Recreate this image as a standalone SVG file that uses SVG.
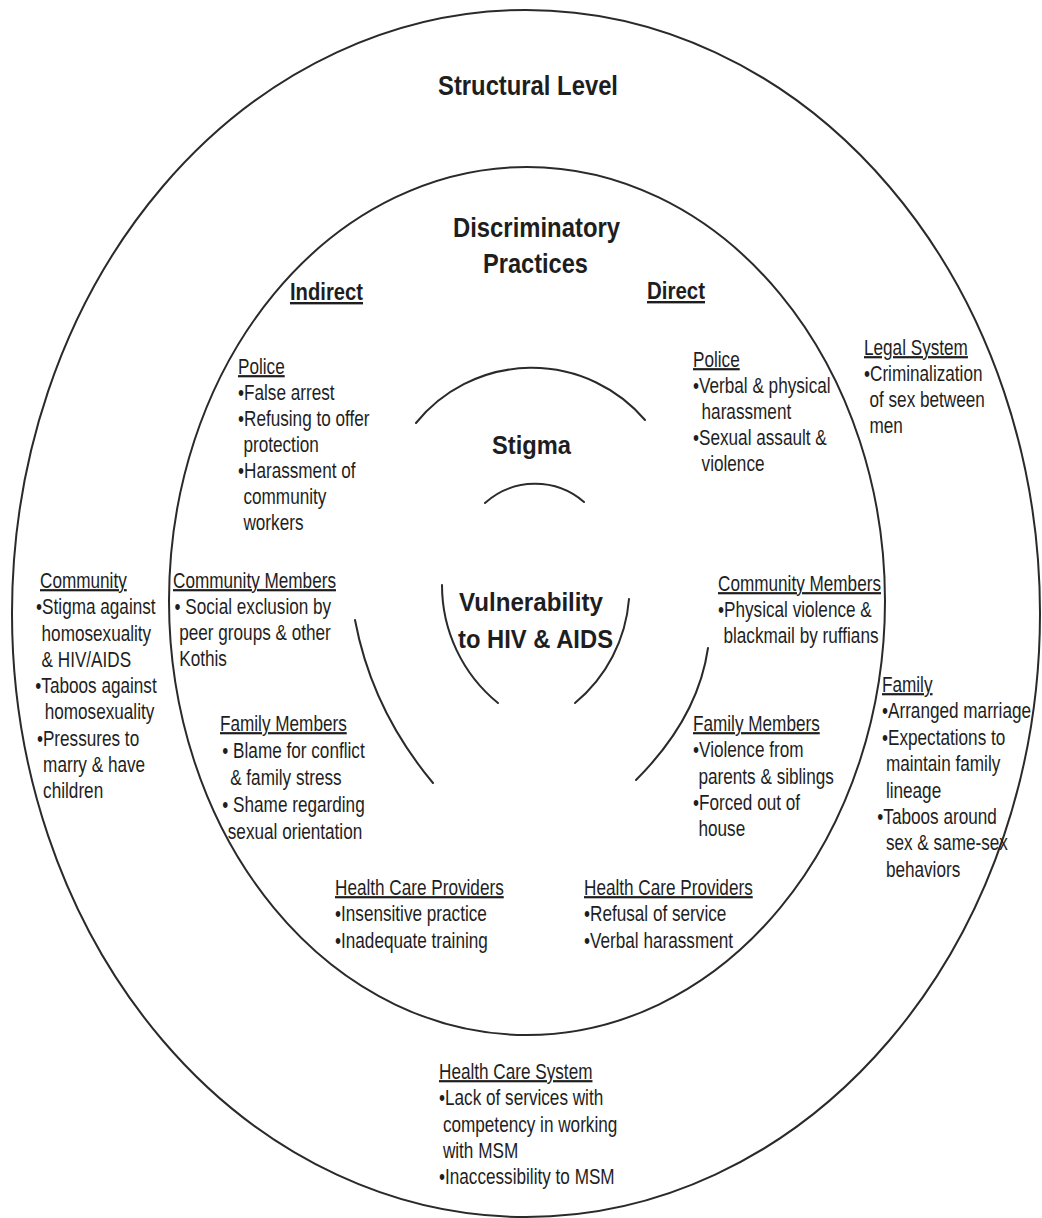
<svg xmlns="http://www.w3.org/2000/svg" width="1042" height="1218" viewBox="0 0 1042 1218">
<style>
.ring{fill:none;stroke:#2a2a2a;stroke-width:2}
.arc{fill:none;stroke:#2a2a2a;stroke-width:2;stroke-linecap:round}
.t{font-family:"Liberation Sans",Arial,sans-serif;fill:#1e1e1e}
.b{font-size:22px}
.h{text-decoration:underline}
.title{font-weight:bold;font-size:28px}
.sub{font-weight:bold;font-size:24px;text-decoration:underline}
.core{font-weight:bold;font-size:26px}
</style>
<rect x="0" y="0" width="1042" height="1218" fill="#ffffff"/>
<g id="rings">
<ellipse class="ring" cx="526" cy="613.5" rx="514" ry="603.5"/>
<ellipse class="ring" cx="527" cy="601" rx="358" ry="434"/>
<path class="arc" d="M416,423 A149,149 0 0 1 645,420"/>
<path class="arc" d="M485,503 A75,75 0 0 1 584,502"/>
<path class="arc" d="M442,585 A152,152 0 0 0 498,703"/>
<path class="arc" d="M629,599 A150,150 0 0 1 575,703"/>
<path class="arc" d="M355,620 Q372,710 433,783"/>
<path class="arc" d="M708,648 Q698,718 636,780"/>
</g>
<g id="titles">
<text id="structural" class="t title" x="438" y="95" textLength="180" lengthAdjust="spacingAndGlyphs">Structural Level</text>
<text id="discriminatory" class="t title" x="453" y="237" textLength="167" lengthAdjust="spacingAndGlyphs">Discriminatory</text>
<text id="practices" class="t title" x="483" y="273" textLength="105" lengthAdjust="spacingAndGlyphs">Practices</text>
<text id="indirect" class="t sub" x="290" y="300" textLength="73" lengthAdjust="spacingAndGlyphs">Indirect</text>
<text id="direct" class="t sub" x="647" y="299" textLength="58" lengthAdjust="spacingAndGlyphs">Direct</text>
</g>
<g id="stigma">
<text class="t core" x="492" y="454" textLength="79" lengthAdjust="spacingAndGlyphs">Stigma</text>
</g>
<g id="vulnerability">
<text class="t core" x="459" y="611" textLength="144" lengthAdjust="spacingAndGlyphs">Vulnerability</text>
<text class="t core" x="458" y="648" textLength="155" lengthAdjust="spacingAndGlyphs">to HIV &amp; AIDS</text>
</g>
<g id="police-indirect">
<text class="t b" transform="translate(238,374) scale(0.78,1)"><tspan class="h" x="0" y="0">Police</tspan><tspan x="0" y="26">•False arrest</tspan><tspan x="0" y="52">•Refusing to offer</tspan><tspan x="7" y="78">protection</tspan><tspan x="0" y="104">•Harassment of</tspan><tspan x="7" y="130">community</tspan><tspan x="7" y="156">workers</tspan></text>
</g>
<g id="police-direct">
<text class="t b" transform="translate(693,367) scale(0.78,1)"><tspan class="h" x="0" y="0">Police</tspan><tspan x="0" y="26">•Verbal &amp; physical</tspan><tspan x="11" y="52">harassment</tspan><tspan x="0" y="78">•Sexual assault &amp;</tspan><tspan x="11" y="104">violence</tspan></text>
</g>
<g id="legal-system">
<text class="t b" transform="translate(864,355) scale(0.78,1)"><tspan class="h" x="0" y="0">Legal System</tspan><tspan x="0" y="26">•Criminalization</tspan><tspan x="7" y="52">of sex between</tspan><tspan x="7" y="78">men</tspan></text>
</g>
<g id="community">
<text class="t b" transform="translate(40,588) scale(0.78,1)"><tspan class="h" x="0" y="0">Community</tspan><tspan x="-5" y="26.3">•Stigma against</tspan><tspan x="2" y="52.6">homosexuality</tspan><tspan x="2" y="78.9">&amp; HIV/AIDS</tspan><tspan x="-6" y="105.2">•Taboos against</tspan><tspan x="6" y="131.5">homosexuality</tspan><tspan x="-4" y="157.8">•Pressures to</tspan><tspan x="4" y="184.1">marry &amp; have</tspan><tspan x="4" y="210.4">children</tspan></text>
</g>
<g id="community-members-indirect">
<text class="t b" transform="translate(173,588) scale(0.78,1)"><tspan class="h" x="0" y="0">Community Members</tspan><tspan x="2" y="26">• Social exclusion by</tspan><tspan x="8" y="52">peer groups &amp; other</tspan><tspan x="8" y="78">Kothis</tspan></text>
</g>
<g id="family-members-indirect">
<text class="t b" transform="translate(220,731) scale(0.78,1)"><tspan class="h" x="0" y="0">Family Members</tspan><tspan x="3" y="27">• Blame for conflict</tspan><tspan x="13" y="54">&amp; family stress</tspan><tspan x="3" y="81">• Shame regarding</tspan><tspan x="10" y="108">sexual orientation</tspan></text>
</g>
<g id="community-members-direct">
<text class="t b" transform="translate(718,591) scale(0.78,1)"><tspan class="h" x="0" y="0">Community Members</tspan><tspan x="0" y="26">•Physical violence &amp;</tspan><tspan x="7" y="52">blackmail by ruffians</tspan></text>
</g>
<g id="family-members-direct">
<text class="t b" transform="translate(693,731) scale(0.78,1)"><tspan class="h" x="0" y="0">Family Members</tspan><tspan x="0" y="26.3">•Violence from</tspan><tspan x="7" y="52.6">parents &amp; siblings</tspan><tspan x="0" y="78.9">•Forced out of</tspan><tspan x="7" y="105.2">house</tspan></text>
</g>
<g id="family">
<text class="t b" transform="translate(882,692) scale(0.78,1)"><tspan class="h" x="0" y="0">Family</tspan><tspan x="0" y="26.4">•Arranged marriage</tspan><tspan x="0" y="52.8">•Expectations to</tspan><tspan x="5" y="79.2">maintain family</tspan><tspan x="5" y="105.6">lineage</tspan><tspan x="-6" y="132">•Taboos around</tspan><tspan x="5" y="158.4">sex &amp; same-sex</tspan><tspan x="5" y="184.8">behaviors</tspan></text>
</g>
<g id="health-care-providers-indirect">
<text class="t b" transform="translate(335,895) scale(0.78,1)"><tspan class="h" x="0" y="0">Health Care Providers</tspan><tspan x="0" y="26.5">•Insensitive practice</tspan><tspan x="0" y="53">•Inadequate training</tspan></text>
</g>
<g id="health-care-providers-direct">
<text class="t b" transform="translate(584,895) scale(0.78,1)"><tspan class="h" x="0" y="0">Health Care Providers</tspan><tspan x="0" y="26.5">•Refusal of service</tspan><tspan x="0" y="53">•Verbal harassment</tspan></text>
</g>
<g id="health-care-system">
<text class="t b" transform="translate(439,1079) scale(0.78,1)"><tspan class="h" x="0" y="0">Health Care System</tspan><tspan x="0" y="26.3">•Lack of services with</tspan><tspan x="5" y="52.6">competency in working</tspan><tspan x="5" y="78.9">with MSM</tspan><tspan x="0" y="105.2">•Inaccessibility to MSM</tspan></text>
</g>
</svg>
